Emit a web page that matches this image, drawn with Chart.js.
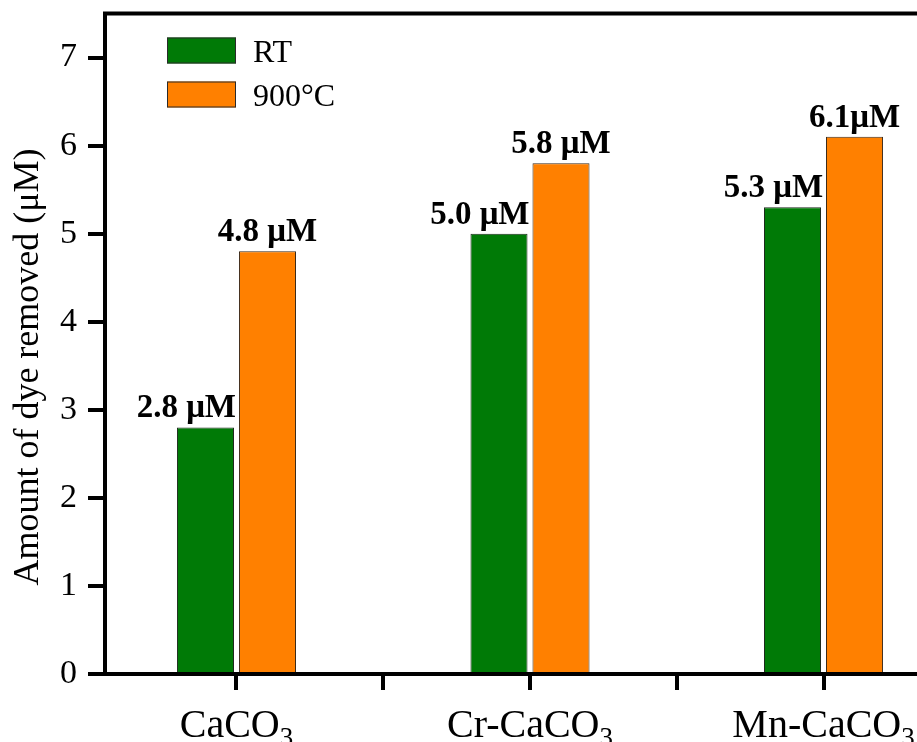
<!DOCTYPE html>
<html>
<head>
<meta charset="utf-8">
<title>Amount of dye removed</title>
<script src="https://cdn.jsdelivr.net/npm/chart.js@4/dist/chart.umd.min.js"></script>
<style>
  html, body { margin: 0; padding: 0; background: #fff; overflow: hidden; }
  #wrap { width: 917px; height: 742px; overflow: hidden; }
  canvas { display: block; }
</style>
</head>
<body>
<div id="wrap"><canvas id="chart" width="960" height="742"></canvas></div>
<script>
// Sample names (trailing digits are drawn as subscripts)
const categories = ['CaCO3', 'Cr-CaCO3', 'Mn-CaCO3'];
// Treatment series
const seriesNames = ['RT', '900°C'];
const rtValues = [2.8, 5.0, 5.3];
const hotValues = [4.8, 5.8, 6.1];
// Value annotations above the bars
const rtLabels = rtValues.map(v => v.toFixed(1) + ' μM');
const hotLabels = hotValues.map((v, i) => v.toFixed(1) + (i === 2 ? 'μM' : ' μM'));
const yTitle = 'Amount of dye removed (μM)';

const SERIF = '"Liberation Serif", "Times New Roman", Times, serif';
const GREEN = '#007A06';
const ORANGE = '#FF8000';
const AXIS_W = 4;

const annotate = {
  id: 'annotate',
  afterDatasetsDraw(chart) {
    const ctx = chart.ctx;
    const texts = [rtLabels, hotLabels];
    ctx.save();
    ctx.font = 'bold 33px ' + SERIF;
    ctx.fillStyle = '#000';
    ctx.textBaseline = 'alphabetic';
    chart.data.datasets.forEach((ds, di) => {
      chart.getDatasetMeta(di).data.forEach((bar, i) => {
        if (di === 0) {
          ctx.textAlign = 'right';
          ctx.fillText(texts[di][i], bar.x + bar.width / 2 + 2, bar.y - 10);
        } else {
          ctx.textAlign = 'center';
          ctx.fillText(texts[di][i], bar.x, bar.y - 10);
        }
      });
    });
    ctx.restore();
  },
  afterDraw(chart) {
    const ctx = chart.ctx;
    const area = chart.chartArea;
    ctx.save();

    // frame line along the top of the plot
    ctx.strokeStyle = '#000';
    ctx.lineWidth = AXIS_W;
    ctx.beginPath();
    ctx.moveTo(area.left - AXIS_W / 2, area.top);
    ctx.lineTo(chart.width, area.top);
    ctx.stroke();

    // legend, stacked inside the plot
    chart.data.datasets.forEach((ds, i) => {
      const bx = area.left + 62;
      const by = area.top + 24 + i * 44;
      ctx.fillStyle = ds.backgroundColor;
      ctx.fillRect(bx, by, 69, 26);
      ctx.lineWidth = 1;
      ctx.strokeStyle = '#2a2a2a';
      ctx.strokeRect(bx + 0.5, by + 0.5, 68, 25);
      ctx.fillStyle = '#000';
      ctx.font = '32px ' + SERIF;
      ctx.textAlign = 'left';
      ctx.textBaseline = 'alphabetic';
      ctx.fillText(ds.label, bx + 86, by + 24);
    });

    // category names under the x axis, with subscripted digits
    const xs = chart.scales.x;
    categories.forEach((name, i) => {
      const m = name.match(/^(.*?)(\d+)$/);
      const main = m ? m[1] : name;
      const sub = m ? m[2] : '';
      ctx.font = '40px ' + SERIF;
      const wMain = ctx.measureText(main).width;
      ctx.font = '27px ' + SERIF;
      const wSub = ctx.measureText(sub).width;
      const cx = xs.getPixelForValue(i + 1);
      const x0 = cx - (wMain + wSub) / 2;
      const base = area.bottom + 63;
      ctx.fillStyle = '#000';
      ctx.textAlign = 'left';
      ctx.textBaseline = 'alphabetic';
      ctx.font = '40px ' + SERIF;
      ctx.fillText(main, x0, base);
      ctx.font = '27px ' + SERIF;
      ctx.fillText(sub, x0 + wMain, base + 9);
    });

    // y axis title
    ctx.translate(38, 367);
    ctx.rotate(-Math.PI / 2);
    ctx.font = '36px ' + SERIF;
    ctx.textAlign = 'center';
    ctx.textBaseline = 'alphabetic';
    ctx.fillStyle = '#000';
    ctx.fillText(yTitle, 0, 0);
    ctx.restore();
  }
};

new Chart(document.getElementById('chart'), {
  type: 'bar',
  data: {
    datasets: [
      {
        label: seriesNames[0],
        data: rtValues.map((v, i) => ({ x: i + 1, y: v })),
        backgroundColor: GREEN,
        borderColor: '#1e2a1e',
        borderWidth: 1
      },
      {
        label: seriesNames[1],
        data: hotValues.map((v, i) => ({ x: i + 1, y: v })),
        backgroundColor: ORANGE,
        borderColor: '#3a2a1a',
        borderWidth: 1
      }
    ]
  },
  options: {
    responsive: false,
    animation: false,
    devicePixelRatio: 1,
    // the bar ruler uses the half-unit tick spacing, so these are relative to it
    categoryPercentage: 0.845,
    barPercentage: 0.92,
    layout: { padding: { top: 13.5, left: 0, right: 5, bottom: 0 } },
    plugins: {
      legend: { display: false },
      tooltip: { enabled: false }
    },
    scales: {
      x: {
        type: 'linear',
        min: 0.552,
        max: 3.448,
        offset: false,
        grid: {
          offset: false,
          drawOnChartArea: false,
          drawTicks: true,
          tickLength: 16,
          lineWidth: AXIS_W,
          color: '#000'
        },
        border: { display: true, color: '#000', width: AXIS_W },
        ticks: {
          stepSize: 0.5,
          includeBounds: false,
          autoSkip: false,
          maxRotation: 0,
          callback: () => ''
        },
        afterFit(scale) {
          scale.height = 68;
          scale.paddingLeft = 0;
          scale.paddingRight = 0;
        }
      },
      y: {
        min: 0,
        max: 7.5,
        grid: {
          drawOnChartArea: false,
          drawTicks: true,
          tickLength: 17,
          lineWidth: AXIS_W,
          color: '#000'
        },
        border: { display: true, color: '#000', width: AXIS_W },
        ticks: {
          stepSize: 1,
          includeBounds: false,
          padding: 11,
          color: '#000',
          font: { family: SERIF, size: 34 }
        },
        afterFit(scale) {
          scale.width = 105;
          scale.paddingTop = 0;
          scale.paddingBottom = 0;
        }
      }
    }
  },
  plugins: [annotate]
});
</script>
</body>
</html>
